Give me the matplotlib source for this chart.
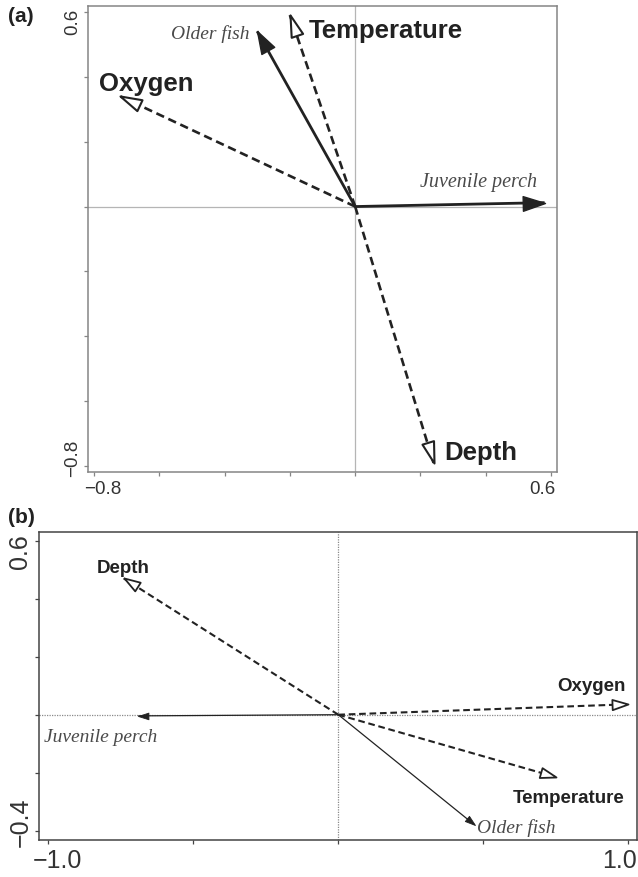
import numpy as np
import matplotlib
matplotlib.use("Agg")
import matplotlib.pyplot as plt
from matplotlib.markers import MarkerStyle
from matplotlib.path import Path
from matplotlib.transforms import Affine2D, ScaledTranslation

# panel (a): species (solid) and environment (dashed) arrow tips
a_species = ['Juvenile perch', 'Older fish']
a_species_x = [0.58, -0.30]
a_species_y = [0.012, 0.54]
a_env = ['Temperature', 'Oxygen', 'Depth']
a_env_x = [-0.20, -0.72, 0.24]
a_env_y = [0.59, 0.34, -0.79]

# panel (b)
b_species = ['Juvenile perch', 'Older fish']
b_species_x = [-0.69, 0.47]
b_species_y = [-0.004, -0.38]
b_env = ['Depth', 'Oxygen', 'Temperature']
b_env_x = [-0.74, 1.0, 0.75]
b_env_y = [0.47, 0.036, -0.215]

a_ticks = [-0.8, -0.6, -0.4, -0.2, 0.0, 0.2, 0.4, 0.6]
a_lim = (-0.818, 0.618)
b_xticks = [-1.0, -0.5, 0.0, 0.5, 1.0]
b_yticks = [-0.4, -0.2, 0.0, 0.2, 0.4, 0.6]
b_xlim = (-1.031, 1.031)
b_ylim = (-0.431, 0.629)

INK = '#222222'
SANS = 'Liberation Sans'
SERIF = 'Liberation Serif'


def head_marker(x, y, w):
    # triangle with its tip at the origin, pointing along (x, y)
    verts = [(0, 0), (-1, w), (-1, -w), (0, 0)]
    path = Path(verts, [Path.MOVETO, Path.LINETO, Path.LINETO, Path.CLOSEPOLY])
    ang = np.arctan2(y, x)
    return MarkerStyle(path, transform=Affine2D().rotate(ang))


def arrow(ax, x, y, lw, dashed, open_head, ms, w, mew):
    ls = (0, (3.2, 1.8)) if dashed else '-'
    ax.plot([0, x], [0, y], color=INK, lw=lw, ls=ls, solid_capstyle='butt',
            dash_capstyle='butt', zorder=3)
    fc = 'white' if open_head else INK
    ax.plot([x], [y], marker=head_marker(x, y, w), ms=ms, mfc=fc, mec=INK,
            mew=mew, ls='none', zorder=4)


def end_labels(ax, ticks, axis, fs, color, shift):
    labels = [f'{t:.1f}'.replace('-', '\u2212') if i in (0, len(ticks) - 1) else ''
              for i, t in enumerate(ticks)]
    if axis == 'x':
        ax.set_xticks(ticks)
        ax.set_xticklabels(labels, fontsize=fs, color=color, family=SANS)
        tl = ax.get_xticklabels()
        offs = [(shift, 0), (-shift, 0)]
    else:
        ax.set_yticks(ticks)
        ax.set_yticklabels(labels, fontsize=fs, color=color, family=SANS,
                           rotation=90, va='center')
        tl = ax.get_yticklabels()
        offs = [(0, shift), (0, -shift)]
    fig = ax.figure
    for lab, (dx, dy) in zip([tl[0], tl[-1]], offs):
        lab.set_transform(lab.get_transform() +
                          ScaledTranslation(dx / 72, dy / 72, fig.dpi_scale_trans))


fig = plt.figure(figsize=(6.38, 8.78), dpi=100)

# ---------------- (a)
ax = fig.add_axes([88 / 638, 1 - 473 / 878, 469 / 638, 466 / 878])
ax.set_xlim(a_lim)
ax.set_ylim(a_lim)
ax.axhline(0, color='#b5b5b5', lw=0.9, zorder=1)
ax.axvline(0, color='#b5b5b5', lw=0.9, zorder=1)
for s in ax.spines.values():
    s.set_color('#858585')
    s.set_linewidth(1.1)
ax.tick_params(length=3, width=0.9, color='#858585')
ax.tick_params(axis='x', pad=3)
ax.tick_params(axis='y', pad=2)
end_labels(ax, a_ticks, 'x', 13.5, '#333333', 6.5)
end_labels(ax, a_ticks, 'y', 13.5, '#333333', 6.5)

for x, y in zip(a_species_x, a_species_y):
    arrow(ax, x, y, lw=2.0, dashed=False, open_head=False, ms=32, w=0.33, mew=1.0)
for x, y in zip(a_env_x, a_env_y):
    arrow(ax, x, y, lw=1.9, dashed=True, open_head=True, ms=31, w=0.28, mew=1.5)

ax.text(-0.325, 0.535, 'Older fish', family=SERIF, style='italic', fontsize=14,
        color='#4a4a4a', ha='right', va='center')
ax.text(0.557, 0.062, 'Juvenile perch', family=SERIF, style='italic', fontsize=14.5,
        color='#4a4a4a', ha='right', va='baseline')
ax.text(-0.142, 0.524, 'Temperature', family=SANS, weight='bold', fontsize=18.5,
        color=INK, ha='left', va='baseline')
ax.text(-0.785, 0.359, 'Oxygen', family=SANS, weight='bold', fontsize=18.5,
        color=INK, ha='left', va='baseline')
ax.text(0.274, -0.778, 'Depth', family=SANS, weight='bold', fontsize=18.5,
        color=INK, ha='left', va='baseline')

fig.text(8 / 638, 1 - 17 / 878, '(a)', family=SANS, weight='bold', fontsize=15,
         color=INK, ha='left', va='center')

# ---------------- (b)
bx = fig.add_axes([39.3 / 638, 1 - 840.7 / 878, 598 / 638, 307.4 / 878])
bx.set_xlim(b_xlim)
bx.set_ylim(b_ylim)
bx.axhline(0, color='#8a8a8a', lw=0.9, ls=(0, (1, 1)), zorder=1)
bx.axvline(0, color='#8a8a8a', lw=0.9, ls=(0, (1, 1)), zorder=1)
for s in bx.spines.values():
    s.set_color('#444444')
    s.set_linewidth(1.1)
bx.tick_params(length=3, width=0.9, color='#444444')
bx.tick_params(axis='x', pad=3)
bx.tick_params(axis='y', pad=2)
end_labels(bx, b_xticks, 'x', 18, '#333333', 6.5)
end_labels(bx, b_yticks, 'y', 18, '#333333', 7)

for x, y in zip(b_species_x, b_species_y):
    arrow(bx, x, y, lw=0.9, dashed=False, open_head=False, ms=15, w=0.32, mew=0.6)
for x, y in zip(b_env_x, b_env_y):
    arrow(bx, x, y, lw=1.5, dashed=True, open_head=True, ms=23, w=0.32, mew=1.3)

bx.text(-0.832, 0.493, 'Depth', family=SANS, weight='bold', fontsize=13.5,
        color=INK, ha='left', va='baseline')
bx.text(0.754, 0.085, 'Oxygen', family=SANS, weight='bold', fontsize=13.5,
        color=INK, ha='left', va='baseline')
bx.text(0.602, -0.300, 'Temperature', family=SANS, weight='bold', fontsize=13.5,
        color=INK, ha='left', va='baseline')
bx.text(-1.015, -0.0896, 'Juvenile perch', family=SERIF, style='italic', fontsize=14,
        color='#4a4a4a', ha='left', va='baseline')
bx.text(0.478, -0.403, 'Older fish', family=SERIF, style='italic', fontsize=14,
        color='#4a4a4a', ha='left', va='baseline')

fig.text(8 / 638, 1 - 518 / 878, '(b)', family=SANS, weight='bold', fontsize=15,
         color=INK, ha='left', va='center')

fig.savefig('out.png', dpi=100)
